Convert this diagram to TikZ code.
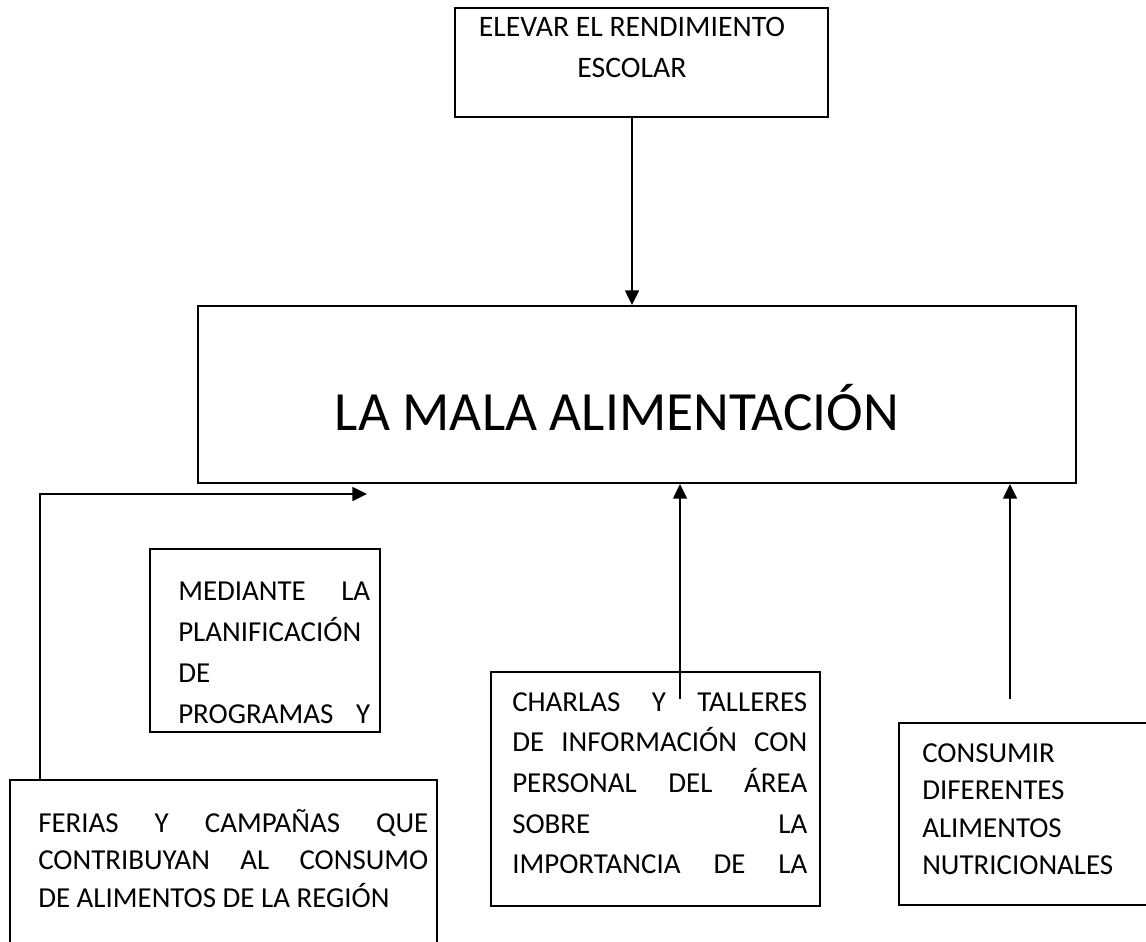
\documentclass[tikz,border=0pt]{standalone}
\usepackage{fontspec}
\setmainfont{Carlito}
\usetikzlibrary{arrows.meta,fit}

\tikzset{
  caja/.style={draw,line width=1.5pt,inner sep=0pt},
  texto/.style={anchor=north west,inner sep=0pt,align=justify,font=\fontsize{21.7}{28.1}\selectfont},
  flecha/.style={line width=1.1pt,-{Triangle[length=11pt,width=10.5pt]}}
}

\begin{document}
\begin{tikzpicture}[x=0.75pt,y=-0.75pt]
\useasboundingbox (0,0) rectangle (1146,942);
\clip (0,0) rectangle (1146,942);

% cajas
\node[caja,fit={(455,8) (828,117)}] (meta) {};
\node[caja,fit={(198,306) (1076,483)}] (problema) {};
\node[caja,fit={(150,549) (380,732)}] (mediante) {};
\node[caja,fit={(491,672) (820,906)}] (charlas) {};
\node[caja,fit={(10,780) (437,950)}] (ferias) {};
\node[caja,fit={(899,723) (1150,905)}] (consumir) {};

% textos
\node[texto,anchor=north,align=center,font=\fontsize{22.3}{30.75}\selectfont] (metatxt) at (632,7.3)
  {\strut ELEVAR EL RENDIMIENTO\\ESCOLAR};
\node[anchor=base,inner sep=0pt,font=\fontsize{41.5}{49}\selectfont] (titulo) at (617,430)
  {LA MALA ALIMENTACIÓN};
\node[texto,text width=144pt,font=\fontsize{21.7}{30.75}\selectfont] (mediantetxt) at (178,571.3)
  {\noindent\parfillskip=0pt\strut MEDIANTE LA\linebreak PLANIFICACIÓN\linebreak DE\linebreak PROGRAMAS Y\par};
\node[texto,text width=221.25pt,font=\fontsize{21.7}{30.5}\selectfont] (charlastxt) at (512,682.5)
  {\noindent\parfillskip=0pt\strut CHARLAS Y TALLERES\linebreak DE INFORMACIÓN CON\linebreak PERSONAL DEL ÁREA\linebreak SOBRE LA\linebreak IMPORTANCIA DE LA\par};
\node[texto,text width=292.5pt] (feriastxt) at (38,805.75)
  {\noindent\strut FERIAS Y CAMPAÑAS QUE\linebreak CONTRIBUYAN AL CONSUMO\linebreak DE ALIMENTOS DE LA REGIÓN};
\node[texto,align=left] (consumirtxt) at (922,735.75)
  {\strut CONSUMIR\\DIFERENTES\\ALIMENTOS\\NUTRICIONALES};

% flechas
\coordinate (c1) at (680,699);
\coordinate (c2) at (1010,699);
\coordinate (codo) at (40,494);
\coordinate (punta) at (367,494);

\draw[flecha] (metatxt.south |- meta.south) -- (metatxt.south |- problema.north);
\draw[flecha] (c1) -- (c1 |- problema.south);
\draw[flecha] (c2) -- (c2 |- problema.south);
\draw[flecha] (codo |- ferias.north) -- (codo) -- (punta);
\end{tikzpicture}
\end{document}
